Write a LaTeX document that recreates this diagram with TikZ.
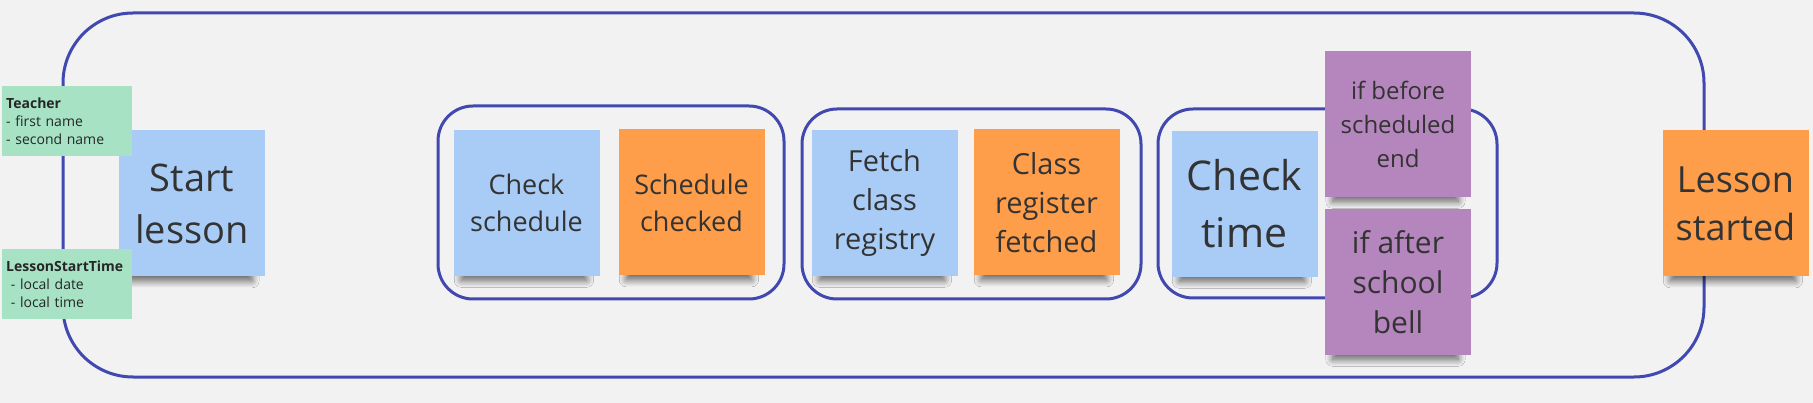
\documentclass[tikz,border=0pt]{standalone}
\usepackage{fontspec}
\setmainfont{Open Sans}
\usetikzlibrary{shadows, shadows.blur}
\definecolor{bgcol}{HTML}{F2F2F2}
\definecolor{framecol}{HTML}{4149B0}
\definecolor{cmdcol}{HTML}{A9CCF6}
\definecolor{evtcol}{HTML}{FF9E4A}
\definecolor{policol}{HTML}{B586BD}
\definecolor{datacol}{HTML}{A6E2C3}
\definecolor{inkcol}{HTML}{333333}

\tikzset{
	sticky/.style={minimum width=146pt, minimum height=146pt, inner sep=0pt,
		align=center, text=inkcol,
		blur shadow={shadow xshift=-3pt, shadow yshift=-17pt, shadow scale=0.86,
			shadow blur radius=8pt, shadow blur steps=12, shadow opacity=60}},
	command/.style={sticky, fill=cmdcol},
	event/.style={sticky, fill=evtcol},
	policy/.style={sticky, fill=policol},
	datanote/.style={anchor=north west, minimum height=70pt, text width=122pt,
		inner xsep=4pt, fill=datacol, text=black!85, align=left,
		font=\fontsize{14}{18}\selectfont},
	group/.style={draw=framecol, line width=3pt, rounded corners=#1},
	group/.default=35pt
}

\begin{document}
\begin{tikzpicture}[x=1pt, y=-1pt]
	\fill[bgcol] (0,0) rectangle (1813,403);
	\useasboundingbox (0,0) rectangle (1813,403);
	
	% frames
	\draw[group=70pt] (63,13) rectangle (1704,377);
	\draw[group] (438,106) rectangle (784,299);
	\draw[group] (802,109) rectangle (1141,299);
	\draw[group] (1158,109) rectangle (1497,298);
	
	% sticky notes
	\node[command, font=\fontsize{38}{52}\selectfont] (start) at (192,203.5) {Start\\lesson};
	\node[command, font=\fontsize{27}{37}\selectfont] (checksched) at (526.5,203) {Check\\schedule};
	\node[event, font=\fontsize{27}{37}\selectfont] (schedchecked) at (691.5,202.5) {Schedule\\checked};
	\node[command, font=\fontsize{29}{39}\selectfont] (fetch) at (884.5,203) {Fetch\\class\\registry};
	\node[event, font=\fontsize{29}{39}\selectfont] (fetched) at (1046.5,202.5) {Class\\register\\fetched};
	\node[command, font=\fontsize{41}{57}\selectfont] (checktime) at (1244.5,204) {Check\\time};
	\node[policy, font=\fontsize{24}{34}\selectfont] (before) at (1398,124) {if before\\scheduled\\end};
	\node[policy, font=\fontsize{30}{40}\selectfont] (after) at (1398,282) {if after\\school\\bell};
	\node[event, font=\fontsize{36}{48}\selectfont] (started) at (1735.5,203.5) {Lesson\\started};
	
	% read models
	\node[datanote] (teacher) at (2,86) {\textbf{Teacher}\\- first name\\- second name};
	\node[datanote] (starttime) at (2,249) {\textbf{LessonStartTime}\\~- local date\\~- local time};
\end{tikzpicture}
\end{document}
